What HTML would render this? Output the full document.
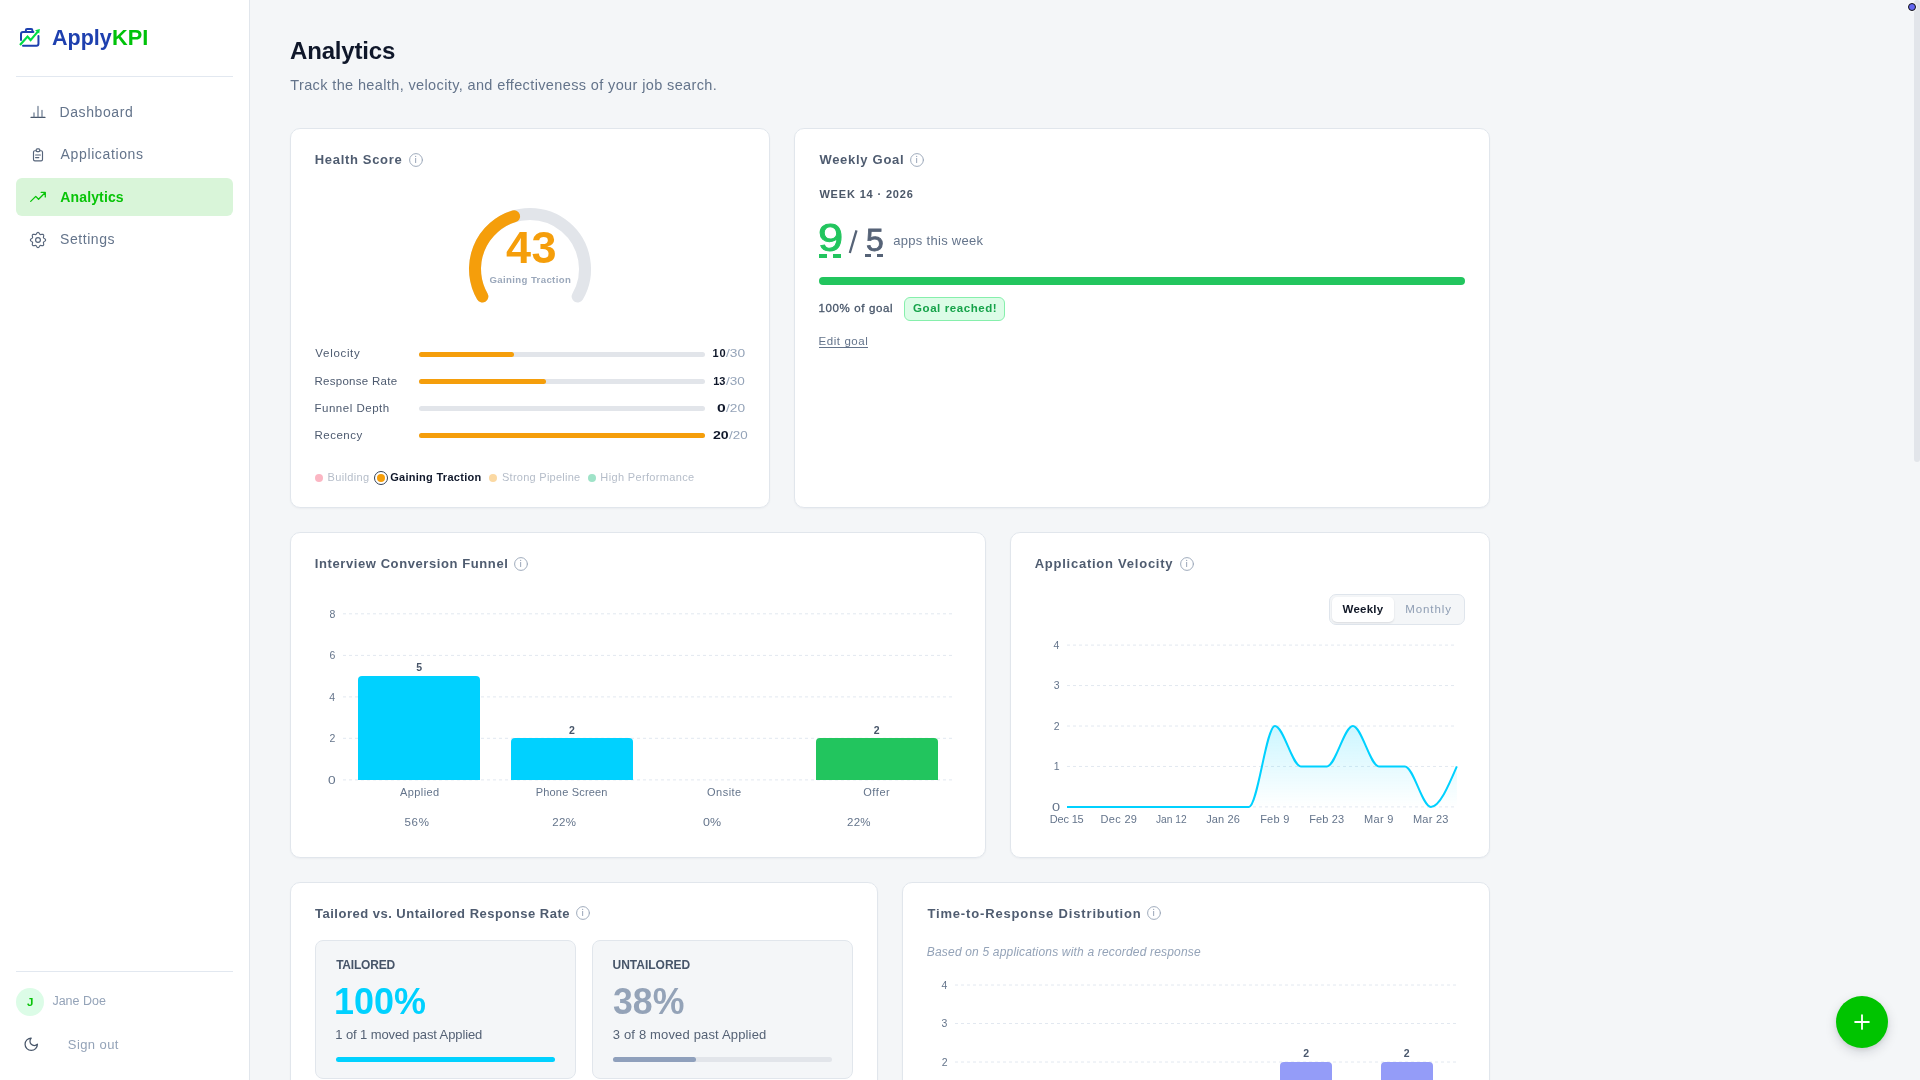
<!DOCTYPE html>
<html><head><meta charset="utf-8"><title>Analytics</title>
<style>
html,body{margin:0;padding:0}
body{width:1920px;height:1080px;overflow:hidden;position:relative;background:#f4f6f8;font-family:"Liberation Sans",sans-serif;}
.a{position:absolute;box-sizing:border-box}
.t{position:absolute;white-space:pre;line-height:1;}
.card{position:absolute;box-sizing:border-box;background:#fff;border:1px solid #e1e6ec;border-radius:10px;box-shadow:0 1px 2px rgba(15,23,42,0.04)}
svg{position:absolute;overflow:visible}
#w{position:absolute;left:0;top:0;width:1920px;height:1080px;will-change:transform}
</style></head><body><div id="w">
<div class="a " style="left:0px;top:0px;width:250px;height:1080px;background:#fff;border-right:1px solid #e1e6ec;"></div>
<div class="a " style="left:16px;top:76px;width:217px;height:1px;background:#e2e8f0;"></div>
<div class="a " style="left:16px;top:971px;width:217px;height:1px;background:#e2e8f0;"></div>
<svg style="left:0;top:0" width="60" height="60" viewBox="0 0 60 60" fill="none">
<g stroke="#1e40af" stroke-width="2" stroke-linecap="round" stroke-linejoin="round">
<path d="M25.85 32.1V30.3a1.3 1.3 0 0 1 1.3-1.3h3.95a1.3 1.3 0 0 1 1.3 1.3v1.8"/>
<path d="M21 40.1V34.1a2 2 0 0 1 2-2H33.4"/>
<path d="M38.45 36.1V43.75a2 2 0 0 1-2 2H23"/>
</g>
<path d="M20 45L27.5 36.6L30.6 40.1L37.8 31.6" stroke="#00dc46" stroke-width="2.2" stroke-linejoin="miter"/>
<path d="M35 30.2L39.9 29L39.2 33.6Z" fill="#00dc46"/>
</svg>
<div class="t" style="left:52.26px;top:24px;line-height:26px;font-size:22.8px;color:#1e40af;font-weight:700;transform:scaleX(0.9437);transform-origin:0 0;">Apply</div>
<div class="t" style="left:112.32px;top:24px;line-height:26px;font-size:22.8px;color:#00c20a;font-weight:700;transform:scaleX(0.9542);transform-origin:0 0;">KPI</div>
<div class="a " style="left:16px;top:178px;width:217px;height:38px;background:#d9f5d9;border-radius:6px;"></div>
<div class="t" style="left:59.46px;top:104px;line-height:16px;font-size:14px;color:#64748b;letter-spacing:0.600px;">Dashboard</div>
<div class="t" style="left:60.60px;top:146px;line-height:16px;font-size:14px;color:#64748b;letter-spacing:0.628px;">Applications</div>
<div class="t" style="left:60.25px;top:189px;line-height:16px;font-size:14px;color:#08c408;font-weight:700;letter-spacing:0.145px;">Analytics</div>
<div class="t" style="left:59.99px;top:231px;line-height:16px;font-size:14px;color:#64748b;letter-spacing:0.560px;">Settings</div>
<svg style="left:0;top:90px" width="60" height="170" viewBox="0 90 60 170" fill="none" stroke-linecap="round" stroke-linejoin="round">
<g stroke="#56647a" stroke-width="1.15">
<path d="M31 117.4H45" stroke="#475569"/>
<path d="M34 117V112.9M38 117V106.4M42 117V110.3" stroke="#64748b"/>
<rect x="33.5" y="150.7" width="9" height="10.2" rx="1.4"/>
<rect x="36.2" y="148.8" width="3.6" height="2.8" rx="1" fill="#fff"/>
<path d="M35.6 155H40.4M35.6 157.6H38.8"/>
<circle cx="38" cy="240" r="2.4"/>
<path d="M38.00 232.40L38.39 232.48L38.77 232.72L39.10 233.07L39.38 233.48L39.64 233.89L39.87 234.23L40.12 234.47L40.41 234.59L40.75 234.60L41.16 234.52L41.63 234.41L42.12 234.33L42.61 234.31L43.04 234.41L43.37 234.63L43.59 234.96L43.69 235.39L43.67 235.88L43.59 236.37L43.48 236.84L43.40 237.25L43.41 237.59L43.53 237.88L43.77 238.13L44.11 238.36L44.52 238.62L44.93 238.90L45.28 239.23L45.52 239.61L45.60 240.00L45.52 240.39L45.28 240.77L44.93 241.10L44.52 241.38L44.11 241.64L43.77 241.87L43.53 242.12L43.41 242.41L43.40 242.75L43.48 243.16L43.59 243.63L43.67 244.12L43.69 244.61L43.59 245.04L43.37 245.37L43.04 245.59L42.61 245.69L42.12 245.67L41.63 245.59L41.16 245.48L40.75 245.40L40.41 245.41L40.12 245.53L39.87 245.77L39.64 246.11L39.38 246.52L39.10 246.93L38.77 247.28L38.39 247.52L38.00 247.60L37.61 247.52L37.23 247.28L36.90 246.93L36.62 246.52L36.36 246.11L36.13 245.77L35.88 245.53L35.59 245.41L35.25 245.40L34.84 245.48L34.37 245.59L33.88 245.67L33.39 245.69L32.96 245.59L32.63 245.37L32.41 245.04L32.31 244.61L32.33 244.12L32.41 243.63L32.52 243.16L32.60 242.75L32.59 242.41L32.47 242.12L32.23 241.87L31.89 241.64L31.48 241.38L31.07 241.10L30.72 240.77L30.48 240.39L30.40 240.00L30.48 239.61L30.72 239.23L31.07 238.90L31.48 238.62L31.89 238.36L32.23 238.13L32.47 237.88L32.59 237.59L32.60 237.25L32.52 236.84L32.41 236.37L32.33 235.88L32.31 235.39L32.41 234.96L32.63 234.63L32.96 234.41L33.39 234.31L33.88 234.33L34.37 234.41L34.84 234.52L35.25 234.60L35.59 234.59L35.88 234.47L36.13 234.23L36.36 233.89L36.62 233.48L36.90 233.07L37.23 232.72L37.61 232.48Z"/>
</g>
<path d="M30.7 201.4L35.75 196.4L38.56 199.2L45.3 192.45M41.2 192.45H45.3V196.9" stroke="#08c408" stroke-width="1.3"/>
</svg>
<div class="a " style="left:16px;top:988px;width:28px;height:28px;background:#dcfce7;border-radius:50%;"></div>
<div class="t" style="left:27.11px;top:996px;line-height:12px;font-size:11.5px;color:#08c408;font-weight:700;">J</div>
<div class="t" style="left:52.40px;top:994px;line-height:14px;font-size:12.5px;color:#94a3b8;">Jane Doe</div>
<div class="t" style="left:67.83px;top:1037px;line-height:15px;font-size:13px;color:#94a3b8;letter-spacing:0.408px;">Sign out</div>
<svg style="left:23.4px;top:1035.9px" width="16.5" height="16.5" viewBox="0 0 24 24" fill="none" stroke="#475569" stroke-width="1.8" stroke-linecap="round" stroke-linejoin="round"><path d="M12 3a6 6 0 0 0 9 9 9 9 0 1 1-9-9Z"/></svg>
<div class="t" style="left:290.00px;top:37px;line-height:27px;font-size:24px;color:#0f172a;font-weight:700;letter-spacing:-0.169px;">Analytics</div>
<div class="t" style="left:290.28px;top:77px;line-height:16px;font-size:14.5px;color:#64748b;letter-spacing:0.372px;">Track the health, velocity, and effectiveness of your job search.</div>
<div class="card" style="left:290px;top:128px;width:480px;height:380px"></div>
<div class="card" style="left:794px;top:128px;width:696px;height:380px"></div>
<div class="card" style="left:290px;top:532px;width:696px;height:326px"></div>
<div class="card" style="left:1010px;top:532px;width:480px;height:326px"></div>
<div class="card" style="left:290px;top:882px;width:588px;height:300px"></div>
<div class="card" style="left:902px;top:882px;width:588px;height:300px"></div>
<div class="t" style="left:314.75px;top:152px;line-height:15px;font-size:13px;color:#4f5c70;font-weight:700;letter-spacing:0.681px;">Health Score</div>
<svg style="left:408.0px;top:152.0px" width="16" height="16" viewBox="0 0 16 16" fill="none" stroke="#9aa6b8" stroke-linecap="round"><circle cx="8" cy="8" r="6.4" stroke-width="0.95"/><path d="M7.65 6.4V10.6" stroke-width="1"/><circle cx="7.65" cy="4.4" r="0.6" fill="#9aa6b8" stroke="none"/></svg>
<div class="t" style="left:819.40px;top:152px;line-height:15px;font-size:13px;color:#4f5c70;font-weight:700;letter-spacing:0.718px;">Weekly Goal</div>
<svg style="left:909.0px;top:152.0px" width="16" height="16" viewBox="0 0 16 16" fill="none" stroke="#9aa6b8" stroke-linecap="round"><circle cx="8" cy="8" r="6.4" stroke-width="0.95"/><path d="M7.65 6.4V10.6" stroke-width="1"/><circle cx="7.65" cy="4.4" r="0.6" fill="#9aa6b8" stroke="none"/></svg>
<div class="t" style="left:314.75px;top:556px;line-height:15px;font-size:13px;color:#4f5c70;font-weight:700;letter-spacing:0.591px;">Interview Conversion Funnel</div>
<svg style="left:513.0px;top:555.8px" width="16" height="16" viewBox="0 0 16 16" fill="none" stroke="#9aa6b8" stroke-linecap="round"><circle cx="8" cy="8" r="6.4" stroke-width="0.95"/><path d="M7.65 6.4V10.6" stroke-width="1"/><circle cx="7.65" cy="4.4" r="0.6" fill="#9aa6b8" stroke="none"/></svg>
<div class="t" style="left:1034.67px;top:556px;line-height:15px;font-size:13px;color:#4f5c70;font-weight:700;letter-spacing:0.756px;">Application Velocity</div>
<svg style="left:1179.0px;top:555.8px" width="16" height="16" viewBox="0 0 16 16" fill="none" stroke="#9aa6b8" stroke-linecap="round"><circle cx="8" cy="8" r="6.4" stroke-width="0.95"/><path d="M7.65 6.4V10.6" stroke-width="1"/><circle cx="7.65" cy="4.4" r="0.6" fill="#9aa6b8" stroke="none"/></svg>
<div class="t" style="left:315.08px;top:906px;line-height:15px;font-size:13px;color:#4f5c70;font-weight:700;letter-spacing:0.490px;">Tailored vs. Untailored Response Rate</div>
<svg style="left:575.1px;top:905.0px" width="16" height="16" viewBox="0 0 16 16" fill="none" stroke="#9aa6b8" stroke-linecap="round"><circle cx="8" cy="8" r="6.4" stroke-width="0.95"/><path d="M7.65 6.4V10.6" stroke-width="1"/><circle cx="7.65" cy="4.4" r="0.6" fill="#9aa6b8" stroke="none"/></svg>
<div class="t" style="left:927.38px;top:906px;line-height:15px;font-size:13px;color:#4f5c70;font-weight:700;letter-spacing:0.847px;">Time-to-Response Distribution</div>
<svg style="left:1146.0px;top:905.0px" width="16" height="16" viewBox="0 0 16 16" fill="none" stroke="#9aa6b8" stroke-linecap="round"><circle cx="8" cy="8" r="6.4" stroke-width="0.95"/><path d="M7.65 6.4V10.6" stroke-width="1"/><circle cx="7.65" cy="4.4" r="0.6" fill="#9aa6b8" stroke="none"/></svg>
<svg style="left:0;top:0" width="800" height="320" viewBox="0 0 800 320" fill="none" stroke-linecap="round"><path d="M482.37 296.50A55 55 0 1 1 577.63 296.50" stroke="#e2e5ea" stroke-width="12"/><path d="M482.37 296.50A55 55 0 0 1 514.10 216.35" stroke="#f59e0b" stroke-width="12"/></svg>
<div class="t" style="left:506.00px;top:222px;line-height:51px;font-size:45px;color:#f59e0b;font-weight:700;letter-spacing:0.587px;">43</div>
<div class="t" style="left:489.51px;top:274px;line-height:11px;font-size:9.6px;color:#9ba8bb;font-weight:700;letter-spacing:0.376px;">Gaining Traction</div>
<div class="t" style="left:315.36px;top:347px;line-height:12px;font-size:11.5px;color:#4d5a6f;letter-spacing:0.678px;">Velocity</div>
<div class="a " style="left:419px;top:351.9px;width:286px;height:5px;background:#e2e5ea;border-radius:3px;"></div>
<div class="a " style="left:419px;top:351.9px;width:95.3333px;height:5px;background:#f59e0b;border-radius:3px;"></div>
<div class="t" style="left:314.47px;top:375px;line-height:12px;font-size:11.5px;color:#4d5a6f;letter-spacing:0.280px;">Response Rate</div>
<div class="a " style="left:419px;top:379px;width:286px;height:5px;background:#e2e5ea;border-radius:3px;"></div>
<div class="a " style="left:419px;top:379px;width:126.612px;height:5px;background:#f59e0b;border-radius:3px;"></div>
<div class="t" style="left:314.47px;top:402px;line-height:12px;font-size:11.5px;color:#4d5a6f;letter-spacing:0.511px;">Funnel Depth</div>
<div class="a " style="left:419px;top:406px;width:286px;height:5px;background:#e2e5ea;border-radius:3px;"></div>
<div class="t" style="left:314.47px;top:429px;line-height:12px;font-size:11.5px;color:#4d5a6f;letter-spacing:0.507px;">Recency</div>
<div class="a " style="left:419px;top:433px;width:286px;height:5px;background:#e2e5ea;border-radius:3px;"></div>
<div class="a " style="left:419px;top:433px;width:286px;height:5px;background:#f59e0b;border-radius:3px;"></div>
<div class="t" style="left:712.51px;top:347px;line-height:12px;font-size:11px;color:#0f172a;font-weight:700;letter-spacing:0.797px;">10</div>
<div class="t" style="left:726.20px;top:347px;line-height:12px;font-size:11px;color:#94a3b8;transform:scaleX(1.2496);transform-origin:0 0;">/30</div>
<div class="t" style="left:713.31px;top:375px;line-height:12px;font-size:11px;color:#0f172a;font-weight:700;letter-spacing:-0.072px;">13</div>
<div class="t" style="left:726.20px;top:375px;line-height:12px;font-size:11px;color:#94a3b8;transform:scaleX(1.2295);transform-origin:0 0;">/30</div>
<div class="t" style="left:716.81px;top:402px;line-height:12px;font-size:11px;color:#0f172a;font-weight:700;transform:scaleX(1.4260);transform-origin:0 0;">0</div>
<div class="t" style="left:726.00px;top:402px;line-height:12px;font-size:11px;color:#94a3b8;transform:scaleX(1.2429);transform-origin:0 0;">/20</div>
<div class="t" style="left:712.72px;top:429px;line-height:12px;font-size:11px;color:#0f172a;font-weight:700;transform:scaleX(1.2793);transform-origin:0 0;">20</div>
<div class="t" style="left:728.90px;top:429px;line-height:12px;font-size:11px;color:#94a3b8;transform:scaleX(1.2160);transform-origin:0 0;">/20</div>
<div class="a " style="left:315px;top:473.8px;width:8px;height:8px;background:#fbb6c3;border-radius:50%;"></div>
<div class="t" style="left:327.61px;top:471px;line-height:12px;font-size:11px;color:#b5bdc9;letter-spacing:0.333px;">Building</div>
<div class="a " style="left:374px;top:470.8px;width:14px;height:14px;background:#fff;border-radius:50%;border:1.2px solid #334155;"></div>
<div class="a " style="left:377px;top:473.8px;width:8px;height:8px;background:#f59e0b;border-radius:50%;"></div>
<div class="t" style="left:390.15px;top:471px;line-height:12px;font-size:11px;color:#0f172a;font-weight:700;letter-spacing:0.289px;">Gaining Traction</div>
<div class="a " style="left:489px;top:473.8px;width:8px;height:8px;background:#fbd9a3;border-radius:50%;"></div>
<div class="t" style="left:502.02px;top:471px;line-height:12px;font-size:11px;color:#b5bdc9;letter-spacing:0.258px;">Strong Pipeline</div>
<div class="a " style="left:588px;top:473.8px;width:8px;height:8px;background:#9fe3c8;border-radius:50%;"></div>
<div class="t" style="left:600.36px;top:471px;line-height:12px;font-size:11px;color:#b5bdc9;letter-spacing:0.348px;">High Performance</div>
<div class="t" style="left:819.40px;top:188px;line-height:12px;font-size:11px;color:#4b5768;font-weight:700;letter-spacing:0.842px;">WEEK 14 · 2026</div>
<div class="t" style="left:817.73px;top:215px;line-height:44px;font-size:39.3px;color:#22c55e;transform:scaleX(1.1526);transform-origin:0 0;-webkit-text-stroke:0.9px #22c55e;">9</div>
<div class="a " style="left:819px;top:254.2px;width:7.9px;height:3.4px;background:#22c55e;"></div>
<div class="a " style="left:833.1px;top:254.2px;width:7.9px;height:3.4px;background:#22c55e;"></div>
<svg style="left:840px;top:220px" width="30" height="40" viewBox="840 220 30 40"><path d="M849.8 253L856.5 230.3" stroke="#566377" stroke-width="2.3" stroke-linecap="butt"/></svg>
<div class="t" style="left:865.71px;top:223px;line-height:34px;font-size:30.5px;color:#566377;transform:scaleX(1.0423);transform-origin:0 0;-webkit-text-stroke:0.8px #566377;">5</div>
<div class="a " style="left:865px;top:254.2px;width:6px;height:2.8px;background:#566377;"></div>
<div class="a " style="left:877.2px;top:254.2px;width:5.7px;height:2.8px;background:#566377;"></div>
<div class="t" style="left:893.22px;top:233px;line-height:15px;font-size:13px;color:#64748b;letter-spacing:0.298px;">apps this week</div>
<div class="a " style="left:819px;top:277px;width:646px;height:8px;background:#22c55e;border-radius:4px;"></div>
<div class="t" style="left:818.54px;top:302px;line-height:12px;font-size:11.5px;color:#475569;letter-spacing:0.635px;-webkit-text-stroke:0.3px #475569;">100% of goal</div>
<div class="a " style="left:904px;top:297px;width:101px;height:24px;background:#dcfce7;border:1px solid #86efac;border-radius:6px;"></div>
<div class="t" style="left:913.03px;top:302px;line-height:12px;font-size:11.5px;color:#16a34a;font-weight:700;letter-spacing:0.580px;">Goal reached!</div>
<div class="t" style="left:818.47px;top:335px;line-height:12px;font-size:11.5px;color:#64748b;letter-spacing:0.581px;">Edit goal</div>
<div class="a " style="left:819px;top:347px;width:48.5px;height:1px;background:#64748b;"></div>
<svg style="left:0;top:0" width="1920" height="1080" viewBox="0 0 1920 1080" fill="none" stroke="#e2e8f0" stroke-width="1" stroke-dasharray="3 3"><path d="M343 613.8H952.5"/><path d="M343 655.4H952.5"/><path d="M343 696.9H952.5"/><path d="M343 738.3H952.5"/><path d="M343 779.9H952.5"/></svg>
<div class="t" style="left:327.69px;top:774px;line-height:12px;font-size:10.5px;color:#64748b;transform:scaleX(1.3061);transform-origin:0 0;">0</div>
<div class="t" style="left:329.48px;top:732px;line-height:12px;font-size:10.5px;color:#64748b;">2</div>
<div class="t" style="left:329.25px;top:691px;line-height:12px;font-size:10.5px;color:#64748b;">4</div>
<div class="t" style="left:329.42px;top:649px;line-height:12px;font-size:10.5px;color:#64748b;">6</div>
<div class="t" style="left:329.42px;top:608px;line-height:12px;font-size:10.5px;color:#64748b;">8</div>
<div class="a " style="left:358px;top:676px;width:122.2px;height:104px;background:#00d1ff;border-radius:4px 4px 0 0;"></div>
<div class="a " style="left:510.6px;top:738.3px;width:122.2px;height:41.7px;background:#00d1ff;border-radius:4px 4px 0 0;"></div>
<div class="a " style="left:815.8px;top:738.3px;width:122.2px;height:41.7px;background:#22c55e;border-radius:4px 4px 0 0;"></div>
<div class="t" style="left:416.26px;top:661px;line-height:12px;font-size:10.5px;color:#475569;font-weight:700;">5</div>
<div class="t" style="left:568.91px;top:724px;line-height:12px;font-size:10.5px;color:#475569;font-weight:700;">2</div>
<div class="t" style="left:873.71px;top:724px;line-height:12px;font-size:10.5px;color:#475569;font-weight:700;">2</div>
<div class="t" style="left:400.00px;top:786px;line-height:12px;font-size:11px;color:#64748b;letter-spacing:0.412px;">Applied</div>
<div class="t" style="left:535.71px;top:786px;line-height:12px;font-size:11px;color:#64748b;letter-spacing:0.188px;">Phone Screen</div>
<div class="t" style="left:707.08px;top:786px;line-height:12px;font-size:11px;color:#64748b;letter-spacing:0.460px;">Onsite</div>
<div class="t" style="left:863.18px;top:786px;line-height:12px;font-size:11px;color:#64748b;letter-spacing:0.580px;">Offer</div>
<div class="t" style="left:404.43px;top:816px;line-height:12px;font-size:11.5px;color:#64748b;letter-spacing:0.731px;">56%</div>
<div class="t" style="left:552.22px;top:816px;line-height:12px;font-size:11.5px;color:#64748b;letter-spacing:0.335px;">22%</div>
<div class="t" style="left:702.53px;top:816px;line-height:12px;font-size:11.5px;color:#64748b;transform:scaleX(1.0839);transform-origin:0 0;">0%</div>
<div class="t" style="left:847.12px;top:816px;line-height:12px;font-size:11.5px;color:#64748b;letter-spacing:0.185px;">22%</div>
<div class="a " style="left:1329px;top:594px;width:136px;height:31px;background:#f4f6f8;border:1px solid #dfe5ec;border-radius:7px;"></div>
<div class="a " style="left:1332px;top:597px;width:62px;height:25px;background:#fff;border-radius:5px;box-shadow:0 1px 2px rgba(15,23,42,0.12);"></div>
<div class="t" style="left:1342.60px;top:603px;line-height:12px;font-size:11.5px;color:#111827;font-weight:700;letter-spacing:0.230px;">Weekly</div>
<div class="t" style="left:1405.17px;top:603px;line-height:12px;font-size:11.5px;color:#8e9db3;letter-spacing:0.947px;">Monthly</div>
<svg style="left:0;top:0" width="1920" height="1080" viewBox="0 0 1920 1080" fill="none" stroke="#e2e8f0" stroke-width="1" stroke-dasharray="3 3"><path d="M1067 806.9H1454.5"/><path d="M1067 766.45H1454.5"/><path d="M1067 726H1454.5"/><path d="M1067 685.55H1454.5"/><path d="M1067 645.1H1454.5"/></svg>
<div class="t" style="left:1051.55px;top:801px;line-height:12px;font-size:10.5px;color:#64748b;transform:scaleX(1.3853);transform-origin:0 0;">0</div>
<div class="t" style="left:1053.75px;top:760px;line-height:12px;font-size:10.5px;color:#64748b;">1</div>
<div class="t" style="left:1053.78px;top:720px;line-height:12px;font-size:10.5px;color:#64748b;">2</div>
<div class="t" style="left:1053.72px;top:679px;line-height:12px;font-size:10.5px;color:#64748b;">3</div>
<div class="t" style="left:1053.55px;top:639px;line-height:12px;font-size:10.5px;color:#64748b;">4</div>
<div class="t" style="left:1049.86px;top:813px;line-height:12px;font-size:11px;color:#64748b;letter-spacing:-0.203px;">Dec 15</div>
<div class="t" style="left:1100.59px;top:813px;line-height:12px;font-size:11px;color:#64748b;letter-spacing:0.311px;">Dec 29</div>
<div class="t" style="left:1155.80px;top:813px;line-height:12px;font-size:11px;color:#64748b;transform:scaleX(0.9284);transform-origin:0 0;">Jan 12</div>
<div class="t" style="left:1206.22px;top:813px;line-height:12px;font-size:11px;color:#64748b;letter-spacing:0.144px;">Jan 26</div>
<div class="t" style="left:1260.15px;top:813px;line-height:12px;font-size:11px;color:#64748b;letter-spacing:0.260px;">Feb 9</div>
<div class="t" style="left:1309.26px;top:813px;line-height:12px;font-size:11px;color:#64748b;letter-spacing:0.127px;">Feb 23</div>
<div class="t" style="left:1363.94px;top:813px;line-height:12px;font-size:11px;color:#64748b;letter-spacing:0.348px;">Mar 9</div>
<div class="t" style="left:1412.92px;top:813px;line-height:12px;font-size:11px;color:#64748b;letter-spacing:0.247px;">Mar 23</div>
<svg style="left:0;top:0" width="1920" height="1080" viewBox="0 0 1920 1080" fill="none"><defs><linearGradient id="vg" x1="0" y1="0" x2="0" y2="1"><stop offset="0" stop-color="#00d1ff" stop-opacity="0.2"/><stop offset="1" stop-color="#00d1ff" stop-opacity="0"/></linearGradient></defs><path d="M1067.00 806.90C1075.66 806.90 1084.33 806.90 1092.99 806.90C1101.65 806.90 1110.32 806.90 1118.98 806.90C1127.64 806.90 1136.31 806.90 1144.97 806.90C1153.63 806.90 1162.30 806.90 1170.96 806.90C1179.62 806.90 1188.29 806.90 1196.95 806.90C1205.61 806.90 1214.28 806.90 1222.94 806.90C1231.60 806.90 1240.27 806.90 1248.93 806.90C1257.59 806.90 1266.26 726.00 1274.92 726.00C1283.58 726.00 1292.25 766.45 1300.91 766.45C1309.57 766.45 1318.24 766.45 1326.90 766.45C1335.56 766.45 1344.23 726.00 1352.89 726.00C1361.55 726.00 1370.22 766.45 1378.88 766.45C1387.54 766.45 1396.21 766.45 1404.87 766.45C1413.53 766.45 1422.20 806.90 1430.86 806.90C1439.52 806.90 1448.19 786.67 1456.85 766.45L1456.85 806.90L1067.00 806.90Z" fill="url(#vg)"/><path d="M1067.00 806.90C1075.66 806.90 1084.33 806.90 1092.99 806.90C1101.65 806.90 1110.32 806.90 1118.98 806.90C1127.64 806.90 1136.31 806.90 1144.97 806.90C1153.63 806.90 1162.30 806.90 1170.96 806.90C1179.62 806.90 1188.29 806.90 1196.95 806.90C1205.61 806.90 1214.28 806.90 1222.94 806.90C1231.60 806.90 1240.27 806.90 1248.93 806.90C1257.59 806.90 1266.26 726.00 1274.92 726.00C1283.58 726.00 1292.25 766.45 1300.91 766.45C1309.57 766.45 1318.24 766.45 1326.90 766.45C1335.56 766.45 1344.23 726.00 1352.89 726.00C1361.55 726.00 1370.22 766.45 1378.88 766.45C1387.54 766.45 1396.21 766.45 1404.87 766.45C1413.53 766.45 1422.20 806.90 1430.86 806.90C1439.52 806.90 1448.19 786.67 1456.85 766.45" stroke="#00d1ff" stroke-width="2" stroke-linejoin="round" stroke-linecap="butt"/></svg>
<div class="a " style="left:315px;top:940px;width:261px;height:139px;background:#f4f6f8;border:1px solid #e1e6ec;border-radius:8px;"></div>
<div class="a " style="left:592px;top:940px;width:261px;height:139px;background:#f4f6f8;border:1px solid #e1e6ec;border-radius:8px;"></div>
<div class="t" style="left:336.14px;top:958px;line-height:14px;font-size:12px;color:#475569;font-weight:700;letter-spacing:-0.193px;">TAILORED</div>
<div class="t" style="left:334.00px;top:981px;line-height:41px;font-size:36.4px;color:#00d1ff;font-weight:700;transform:scaleX(0.9876);transform-origin:0 0;">100%</div>
<div class="t" style="left:335.27px;top:1027px;line-height:15px;font-size:13px;color:#556275;letter-spacing:-0.106px;">1 of 1 moved past Applied</div>
<div class="a " style="left:336px;top:1057px;width:219px;height:5px;background:#00d1ff;border-radius:3px;"></div>
<div class="t" style="left:612.59px;top:958px;line-height:14px;font-size:12px;color:#475569;font-weight:700;letter-spacing:-0.019px;">UNTAILORED</div>
<div class="t" style="left:613.22px;top:981px;line-height:41px;font-size:36.4px;color:#94a3b8;font-weight:700;transform:scaleX(0.9790);transform-origin:0 0;">38%</div>
<div class="t" style="left:612.81px;top:1027px;line-height:15px;font-size:13px;color:#556275;letter-spacing:0.162px;">3 of 8 moved past Applied</div>
<div class="a " style="left:613px;top:1057px;width:219px;height:5px;background:#e2e5ea;border-radius:3px;"></div>
<div class="a " style="left:613px;top:1057px;width:83px;height:5px;background:#8fa0bc;border-radius:3px;"></div>
<div class="t" style="left:926.83px;top:945px;line-height:14px;font-size:12px;color:#94a3b8;font-style:italic;letter-spacing:0.177px;">Based on 5 applications with a recorded response</div>
<svg style="left:0;top:0" width="1920" height="1080" viewBox="0 0 1920 1080" fill="none" stroke="#e2e8f0" stroke-width="1" stroke-dasharray="3 3"><path d="M955 985H1456"/><path d="M955 1023.5H1456"/><path d="M955 1062H1456"/></svg>
<div class="t" style="left:941.68px;top:1056px;line-height:12px;font-size:10.5px;color:#64748b;">2</div>
<div class="t" style="left:941.62px;top:1017px;line-height:12px;font-size:10.5px;color:#64748b;">3</div>
<div class="t" style="left:941.45px;top:979px;line-height:12px;font-size:10.5px;color:#64748b;">4</div>
<div class="a " style="left:1280.2px;top:1062px;width:51.8px;height:20px;background:#949cf8;border-radius:4px 4px 0 0;"></div>
<div class="a " style="left:1380.9px;top:1062px;width:51.8px;height:20px;background:#949cf8;border-radius:4px 4px 0 0;"></div>
<div class="t" style="left:1303.36px;top:1047px;line-height:12px;font-size:10.5px;color:#4a586d;font-weight:700;">2</div>
<div class="t" style="left:1403.71px;top:1047px;line-height:12px;font-size:10.5px;color:#4a586d;font-weight:700;">2</div>
<div class="a " style="left:1914px;top:0px;width:6px;height:462px;background:#e2e5ea;border-radius:3px;"></div>
<div class="a " style="left:1836px;top:996px;width:52px;height:52px;background:#00c400;border-radius:50%;box-shadow:0 4px 12px rgba(15,23,42,0.15),0 2px 4px rgba(15,23,42,0.08);"></div>
<svg style="left:1852px;top:1012px" width="20" height="20" viewBox="0 0 20 20" fill="none" stroke="#fff" stroke-width="1.8" stroke-linecap="round"><path d="M10 3.1V16.9M3.1 10H16.9"/></svg>
<div class="a " style="left:1908px;top:3px;width:8px;height:8px;background:#6366f1;border-radius:50%;border:1.2px solid #111;box-shadow:0 0 0 1px rgba(255,255,255,0.6);"></div>
</div></body></html>
